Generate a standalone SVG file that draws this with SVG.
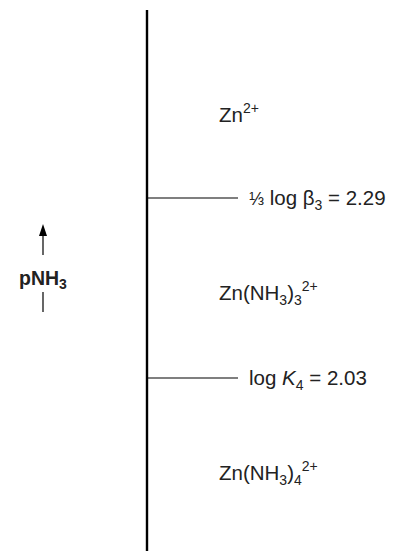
<svg xmlns="http://www.w3.org/2000/svg" width="394" height="551" viewBox="0 0 394 551">
<defs>
<style>
text{font-family:"Liberation Sans",Arial,sans-serif;font-size:20.5px;fill:#222}
.b{font-weight:bold;font-size:19.5px}
.s{font-size:14px}
.ln{stroke:#000;fill:none}
</style>
</defs>
<rect width="394" height="551" fill="#fff"/>
<g id="connectors">
<line class="ln" x1="147" y1="10" x2="147" y2="551" stroke-width="2.4"/>
<line class="ln" x1="147" y1="198" x2="238" y2="198" stroke-width="1.2"/>
<line class="ln" x1="147" y1="378" x2="238" y2="378" stroke-width="1.2"/>
<line class="ln" x1="43" y1="255" x2="43" y2="234" stroke-width="1.2"/>
<polygon points="43,224 39,236 47,236" fill="#000"/>
<line class="ln" x1="43" y1="292" x2="43" y2="312" stroke-width="1.2"/>
</g>
<g id="zn">
<text x="219" y="122">Zn<tspan class="s" dy="-9">2+</tspan></text>
</g>
<g id="beta3">
<text x="249" y="205"><tspan font-size="18">⅓</tspan> log β<tspan class="s" dy="5">3</tspan><tspan dy="-5"> = 2.29</tspan></text>
</g>
<g id="pnh3">
<text class="b" x="19" y="285">pNH<tspan dy="4" font-size="14">3</tspan></text>
</g>
<g id="zn3">
<text x="219" y="300">Zn(NH<tspan class="s" dy="5">3</tspan><tspan dy="-5">)</tspan><tspan class="s" dy="5">3</tspan><tspan class="s" dy="-14">2+</tspan></text>
</g>
<g id="k4">
<text x="249" y="385">log <tspan font-style="italic">K</tspan><tspan class="s" dy="5">4</tspan><tspan dy="-5"> = 2.03</tspan></text>
</g>
<g id="zn4">
<text x="219" y="480">Zn(NH<tspan class="s" dy="5">3</tspan><tspan dy="-5">)</tspan><tspan class="s" dy="5">4</tspan><tspan class="s" dy="-14">2+</tspan></text>
</g>
</svg>
